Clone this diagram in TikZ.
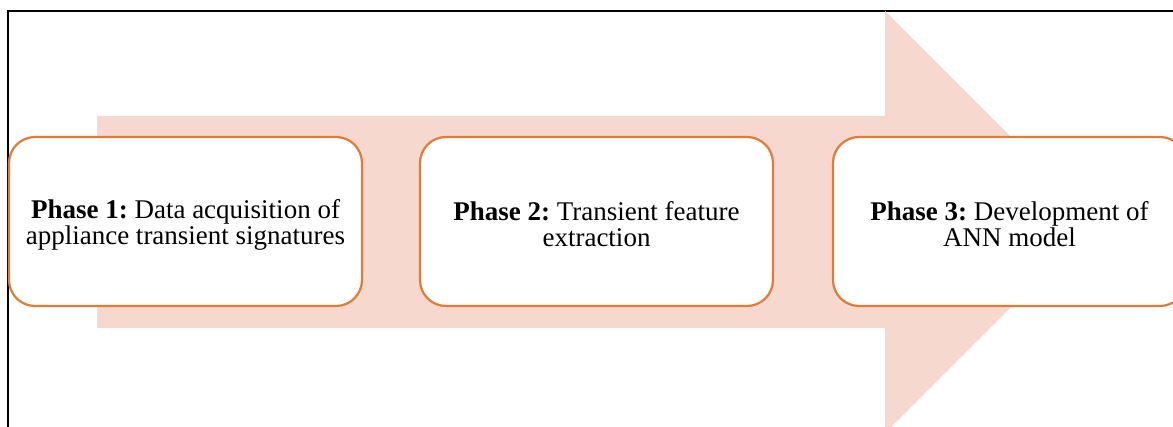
\documentclass[tikz,border=0pt]{standalone}
\usepackage{fontspec}
\setmainfont{Liberation Serif}
\frenchspacing
\definecolor{arrowfill}{RGB}{247,216,206}
\definecolor{boxline}{RGB}{224,123,57}
\begin{document}
\begin{tikzpicture}[x=1pt,y=-1pt,
  phase/.style={draw=boxline, line width=2.2pt, fill=white, rounded corners=26pt,
    minimum width=353pt, minimum height=169pt, inner sep=0pt},
  phasetext/.style={align=center, inner sep=0pt, yshift=-3pt,
    font=\fontsize{27}{26}\selectfont}]
\useasboundingbox (0,0) rectangle (1173,427);
\clip (0,0) rectangle (1173,427);
% outer frame
\draw[line width=1.5pt] (8,11) rectangle (1190,440);
% broad process arrow behind the phases
\fill[arrowfill] (97,116) -- (885,116) -- (885,11) -- (1096,222) -- (885,433)
  -- (885,328) -- (97,328) -- cycle;
% phases
\node[phase] (p1) at (185.5,221.5) {};
\node[phase] (p2) at (596.5,221.5) {};
\node[phase] (p3) at (1009.5,221.5) {};
\node[phasetext] (t1) at (p1.center) {\textbf{Phase 1:} Data acquisition of\\appliance transient signatures};
\node[phasetext] (t2) at (p2.center) {\textbf{Phase 2:} Transient feature\\extraction};
\node[phasetext] (t3) at (p3.center) {\textbf{Phase 3:} Development of\\ANN model};
\end{tikzpicture}
\end{document}
